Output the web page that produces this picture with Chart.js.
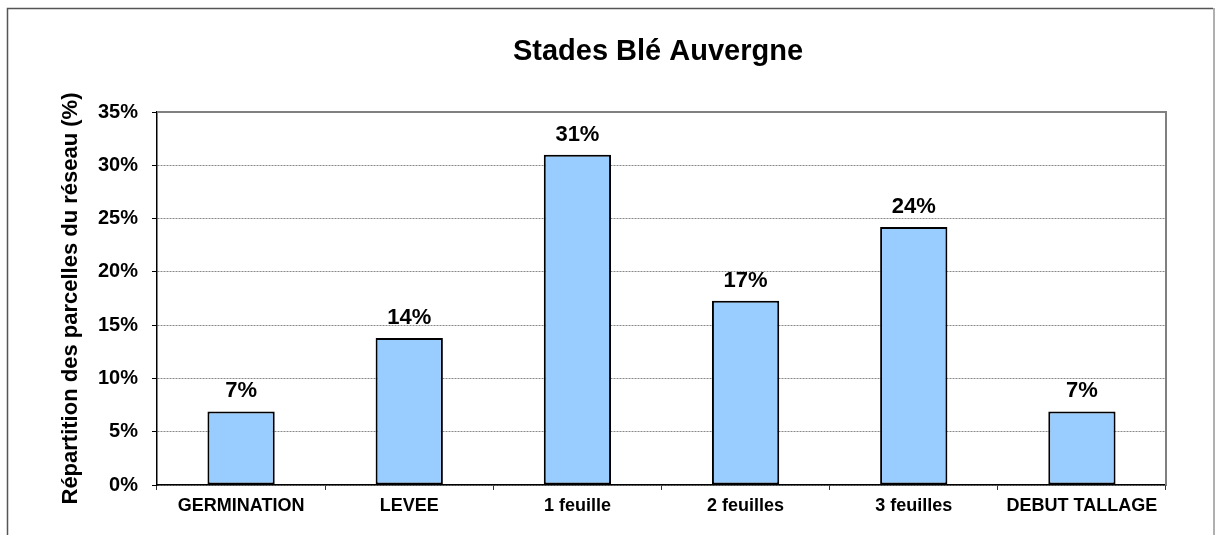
<!DOCTYPE html>
<html>
<head>
<meta charset="utf-8">
<script src="https://cdn.jsdelivr.net/npm/chart.js@4/dist/chart.umd.min.js"></script>
<style>
  html, body { margin: 0; padding: 0; background: #ffffff; }
  #wrap { position: relative; width: 1216px; height: 535px; }
</style>
</head>
<body>
<div id="wrap"><canvas id="c" width="1216" height="535"></canvas></div>
<script>
const chartTitle = "Stades Blé Auvergne";
const yAxisTitle = "Répartition des parcelles du réseau (%)";
const categories = ["GERMINATION", "LEVEE", "1 feuille", "2 feuilles", "3 feuilles", "DEBUT TALLAGE"];
const values = [6.9, 13.8, 31.0, 17.3, 24.2, 6.9];
const yTicks = [0, 5, 10, 15, 20, 25, 30, 35];

const FONT = "'Liberation Sans', Arial, sans-serif";

const framePlugin = {
  id: 'frame',
  beforeDraw(chart) {
    const ctx = chart.ctx;
    ctx.save();
    ctx.fillStyle = '#ffffff';
    ctx.fillRect(0, 0, chart.width, chart.height);
    ctx.restore();
  },
  afterDraw(chart) {
    const ctx = chart.ctx;
    const a = chart.chartArea;
    ctx.save();
    // outer chart border
    ctx.strokeStyle = '#555555';
    ctx.lineWidth = 1.5;
    ctx.beginPath();
    ctx.moveTo(7.5, chart.height);
    ctx.lineTo(7.5, 8.5);
    ctx.lineTo(1213, 8.5);
    ctx.stroke();
    ctx.strokeStyle = '#b0b0b0';
    ctx.lineWidth = 2;
    ctx.beginPath();
    ctx.moveTo(1214, 8);
    ctx.lineTo(1214, chart.height);
    ctx.stroke();
    // plot area border top & right
    ctx.strokeStyle = '#808080';
    ctx.lineWidth = 2;
    ctx.beginPath();
    ctx.moveTo(a.left, a.top);
    ctx.lineTo(a.right, a.top);
    ctx.lineTo(a.right, a.bottom);
    ctx.stroke();
    // title
    ctx.fillStyle = '#000000';
    ctx.font = "bold 29px " + FONT;
    ctx.textAlign = 'center';
    ctx.textBaseline = 'middle';
    ctx.fillText(chartTitle, 658, 52);
    // data labels
    const meta = chart.getDatasetMeta(0);
    ctx.font = "bold 22px " + FONT;
    ctx.textBaseline = 'alphabetic';
    meta.data.forEach((bar, i) => {
      ctx.fillText(Math.round(values[i]) + '%', bar.x, bar.y - 14);
    });
    ctx.restore();
  }
};

new Chart(document.getElementById('c'), {
  type: 'bar',
  data: {
    labels: categories,
    datasets: [{
      data: values,
      backgroundColor: '#99CCFF',
      borderColor: '#000000',
      borderWidth: 2,
      borderSkipped: false,
      categoryPercentage: 1.0,
      barPercentage: 0.4
    }]
  },
  options: {
    responsive: false,
    animation: false,
    devicePixelRatio: 1,
    layout: { padding: { left: 8, top: 112, right: 50, bottom: 10 } },
    plugins: {
      legend: { display: false },
      title: { display: false },
      tooltip: { enabled: false }
    },
    scales: {
      x: {
        offset: true,
        grid: {
          offset: true,
          drawOnChartArea: false,
          drawTicks: true,
          tickLength: 5,
          tickColor: '#333333',
          tickWidth: 1
        },
        border: { color: '#000000', width: 1.5 },
        ticks: {
          color: '#000000',
          padding: 5,
          maxRotation: 0,
          autoSkip: false,
          font: { family: FONT, size: 18, weight: 'bold' }
        },
        afterFit(scale) { scale.height = 40; }
      },
      y: {
        min: 0,
        max: 35,
        afterBuildTicks(scale) { scale.ticks = yTicks.map(v => ({ value: v })); },
        grid: {
          color: '#888888',
          lineWidth: 1,
          tickLength: 5,
          tickColor: '#000000',
          tickWidth: 1
        },
        border: { color: '#000000', width: 1.5, dash: [2, 1] },
        ticks: {
          color: '#000000',
          padding: 14,
          font: { family: FONT, size: 20, weight: 'bold' },
          callback: (v) => v + '%'
        },
        title: {
          display: true,
          text: yAxisTitle,
          color: '#000000',
          padding: { top: 50, bottom: 0 },
          font: { family: FONT, size: 22, weight: 'bold' }
        },
        afterFit(scale) { scale.width = 149; }
      }
    }
  },
  plugins: [framePlugin]
});
</script>
</body>
</html>
